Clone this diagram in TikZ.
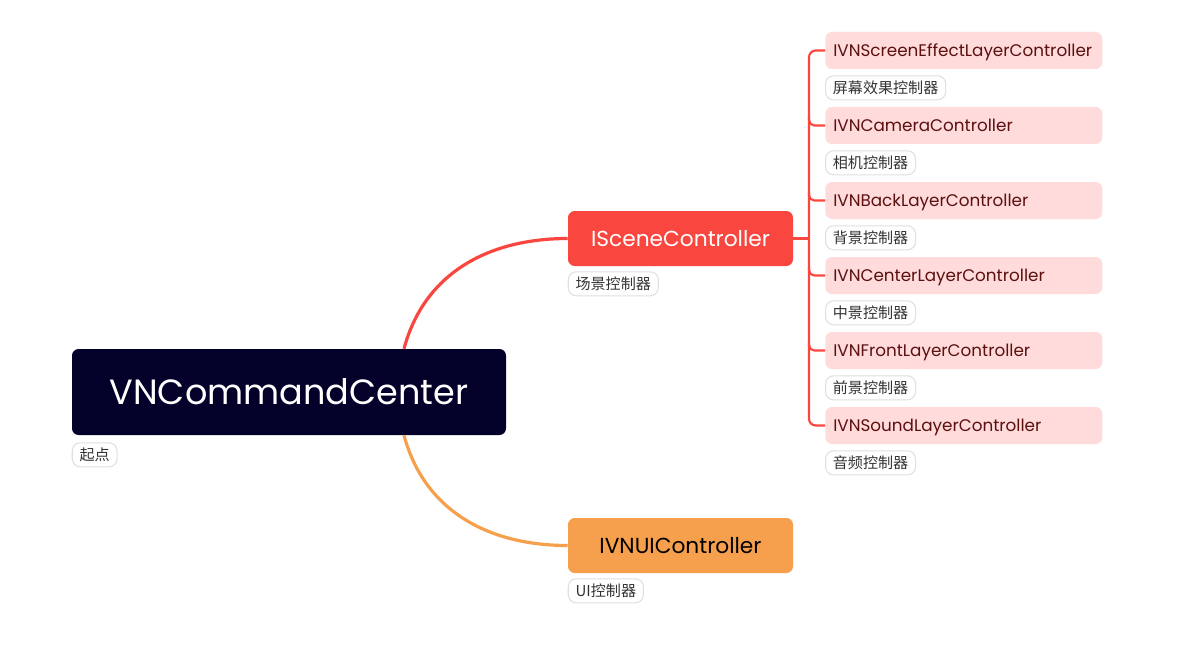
\documentclass[tikz,border=0pt]{standalone}
\usepackage{fontspec}
\setmainfont{Poppins}
\newfontfamily\cjk{Noto Sans CJK SC}
\definecolor{rootfill}{HTML}{03002A}
\definecolor{scenered}{HTML}{F9463F}
\definecolor{uiorange}{HTML}{F6A04D}
\definecolor{leaffill}{HTML}{FFDBDB}
\definecolor{leaftext}{HTML}{5C1010}
\definecolor{tagline}{HTML}{E0E0E0}
\definecolor{tagtext}{HTML}{333333}
\tikzset{
  rootbox/.style={fill=rootfill, text=white, rounded corners=5pt, minimum width=325.5pt, minimum height=64.5pt, text height=20pt, text depth=1.6pt, font=\fontsize{26.3}{30}\selectfont},
  mainbox/.style={rounded corners=5pt, minimum width=168.75pt, minimum height=41.25pt, text height=12.5pt, text depth=1.1pt, font=\fontsize{16.3}{19}\selectfont},
  leaf/.style={fill=leaffill, text=leaftext, rounded corners=5pt, inner xsep=6pt, text width=195.75pt, align=left, minimum height=27.75pt, text height=9.8pt, text depth=1pt, font=\fontsize{12.6}{14}\selectfont},
  tag/.style={draw=tagline, fill=white, text=tagtext, rounded corners=6pt, line width=0.8pt, inner xsep=5.5pt, minimum height=18pt, font=\cjk\fontsize{11.3}{13}\selectfont},
  branch/.style={line width=1.6pt, scenered}
}
\begin{document}
\begin{tikzpicture}[x=0.75pt,y=-0.75pt]
    \useasboundingbox (0,0) rectangle (1177,663);
    %nodo centrale
    \node[rootbox] (root) at (289,392) {VNCommandCenter};
    \node[tag, anchor=north west] (rootlab) at ([yshift=-5.25pt]root.south west) {起点};
    %rami principali
    \node[mainbox, fill=scenered, text=white] (scene) at (680.5,238.5) {ISceneController};
    \node[tag, anchor=north west] (scenelab) at ([yshift=-3.75pt]scene.south west) {场景控制器};
    \node[mainbox, fill=uiorange, text=black] (ui) at (680.5,545.5) {IVNUIController};
    \node[tag, anchor=north west] (uilab) at ([yshift=-3.75pt]ui.south west) {UI控制器};
    \draw[line width=2.4pt, scenered] ([xshift=86.25pt]root.north) .. controls +(20,-75) and +(-80,0) .. (scene.west);
    \draw[line width=2.4pt, uiorange] ([xshift=86.25pt]root.south) .. controls +(20,75) and +(-80,0) .. (ui.west);
    %foglie
    \foreach \txt/\lab [count=\i] in {IVNScreenEffectLayerController/屏幕效果控制器, IVNCameraController/相机控制器, IVNBackLayerController/背景控制器, IVNCenterLayerController/中景控制器, IVNFrontLayerController/前景控制器, IVNSoundLayerController/音频控制器}{
        \node[leaf, anchor=west] (l\i) at (825,{50.5+75*(\i-1)}) {\txt};
        \node[tag, anchor=north west] (t\i) at ([yshift=-4.5pt]l\i.south west) {\lab};
    }
    \coordinate (bus) at (809,238.5);
    \draw[branch] (scene.east) -- (bus);
    \draw[branch, rounded corners=5pt] (l1.west) -- ++(-16,0) |- (l6.west);
    \foreach \i in {2,...,5}
        \draw[branch, rounded corners=4pt] (l\i.west) ++(-16,-8) -- ++(0,8) -- (l\i.west);
\end{tikzpicture}
\end{document}
